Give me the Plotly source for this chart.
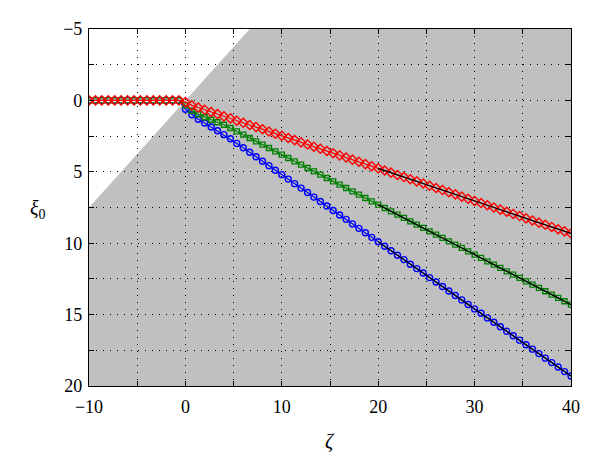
import plotly.graph_objects as go

# sampling grid of zeta (step 2/3)
zeta = [-10.0, -9.33, -8.67, -8.0, -7.33, -6.67, -6.0, -5.33, -4.67, -4.0,
        -3.33, -2.67, -2.0, -1.33, -0.67,
        0.0, 0.67, 1.33, 2.0, 2.67, 3.33, 4.0, 4.67, 5.33, 6.0,
        6.67, 7.33, 8.0, 8.67, 9.33, 10.0, 10.67, 11.33, 12.0, 12.67,
        13.33, 14.0, 14.67, 15.33, 16.0, 16.67, 17.33, 18.0, 18.67, 19.33,
        20.0, 20.67, 21.33, 22.0, 22.67, 23.33, 24.0, 24.67, 25.33, 26.0,
        26.67, 27.33, 28.0, 28.67, 29.33, 30.0, 30.67, 31.33, 32.0, 32.67,
        33.33, 34.0, 34.67, 35.33, 36.0, 36.67, 37.33, 38.0, 38.67, 39.33, 40.0]

flat = [0.0] * 15

xi_red = flat + [0.12, 0.35, 0.50, 0.66, 0.81, 0.96, 1.12, 1.26, 1.42, 1.57,
                 1.72, 1.87, 2.02, 2.18, 2.33, 2.48, 2.63, 2.78, 2.94, 3.09,
                 3.24, 3.39, 3.54, 3.70, 3.85, 4.00, 4.15, 4.30, 4.46, 4.61,
                 4.76, 4.91, 5.06, 5.22, 5.37, 5.52, 5.67, 5.82, 5.98, 6.13,
                 6.28, 6.43, 6.58, 6.74, 6.89, 7.04, 7.19, 7.34, 7.50, 7.65,
                 7.80, 7.95, 8.10, 8.26, 8.41, 8.56, 8.71, 8.86, 9.02, 9.17, 9.32]

xi_green = flat + [0.35, 0.72, 0.98, 1.18, 1.36, 1.53, 1.70, 1.93, 2.17, 2.40,
                   2.63, 2.87, 3.10, 3.33, 3.57, 3.80, 4.03, 4.27, 4.50, 4.73,
                   4.97, 5.20, 5.43, 5.67, 5.90, 6.13, 6.37, 6.60, 6.83, 7.07,
                   7.30, 7.53, 7.77, 8.00, 8.23, 8.47, 8.70, 8.93, 9.17, 9.40,
                   9.63, 9.87, 10.10, 10.33, 10.57, 10.80, 11.03, 11.27, 11.50, 11.73,
                   11.97, 12.20, 12.43, 12.67, 12.90, 13.13, 13.37, 13.60, 13.83, 14.07, 14.30]

xi_blue = flat + [0.62, 1.00, 1.32, 1.58, 1.86, 2.13, 2.40, 2.69, 3.01, 3.32,
                  3.63, 3.95, 4.26, 4.57, 4.89, 5.20, 5.51, 5.83, 6.14, 6.45,
                  6.77, 7.08, 7.39, 7.71, 8.02, 8.33, 8.65, 8.96, 9.27, 9.59,
                  9.90, 10.21, 10.53, 10.84, 11.15, 11.47, 11.78, 12.09, 12.41, 12.72,
                  13.03, 13.35, 13.66, 13.97, 14.29, 14.60, 14.91, 15.23, 15.54, 15.85,
                  16.17, 16.48, 16.79, 17.11, 17.42, 17.73, 18.05, 18.36, 18.67, 18.99, 19.30]

# asymptotic (black) segments start at zeta = 20
asym_start = 20.0

# boundary of shaded region: xi0 = -0.75 * zeta
bound_zeta = [-10.0, 6.67]
bound_xi = [7.5, -5.0]

x_range = [-10, 40]
y_range = [-5, 20]
x_ticks = [-10, -5, 0, 5, 10, 15, 20, 25, 30, 35, 40]
x_labels = ["\u221210", " ", "0", " ", "10", " ", "20", " ", "30", " ", "40"]
y_ticks = [-5, -2.5, 0, 2.5, 5, 7.5, 10, 12.5, 15, 17.5, 20]
y_labels = ["\u22125", " ", "0", " ", "5", " ", "10", " ", "15", " ", "20"]

fig = go.Figure()

series = [
    (xi_blue, "#0000ff", "circle-open", 6),
    (xi_green, "#008000", "square-open", 5),
    (xi_red, "#ff0000", "diamond-open", 7),
]
for ys, col, sym, sz in series:
    fig.add_trace(go.Scatter(x=zeta, y=ys, mode="lines+markers",
                             line=dict(color=col, width=1.2),
                             marker=dict(symbol=sym, size=sz, color=col,
                                         line=dict(color=col, width=1.4)),
                             showlegend=False, hoverinfo="skip"))

for ys, _, _, _ in series:
    xs = [z for z in zeta if z >= asym_start]
    yv = [y for z, y in zip(zeta, ys) if z >= asym_start]
    fig.add_trace(go.Scatter(x=xs, y=yv, mode="lines",
                             line=dict(color="black", width=1.2),
                             showlegend=False, hoverinfo="skip"))

path = (f"M {bound_zeta[0]},{bound_xi[0]} L {bound_zeta[1]},{bound_xi[1]} "
        f"L {x_range[1]},{y_range[0]} L {x_range[1]},{y_range[1]} "
        f"L {x_range[0]},{y_range[1]} Z")
fig.add_shape(type="path", path=path, xref="x", yref="y",
              fillcolor="#c0c0c0", line=dict(width=0), layer="below")

FAM = "Liberation Serif, serif"
font = dict(family=FAM, size=18, color="black")

axis_common = dict(showline=True, linecolor="black", linewidth=1.2, mirror="ticks",
                   ticks="inside", ticklen=5, tickcolor="black", tickwidth=1,
                   showgrid=True, gridcolor="black", gridwidth=1, griddash="1px,6px",
                   zeroline=False, tickfont=font, fixedrange=True)

fig.update_xaxes(range=x_range, tickvals=x_ticks, ticktext=x_labels,
                 ticklabelstandoff=4, **axis_common)
fig.update_yaxes(range=[y_range[1], y_range[0]], tickvals=y_ticks, ticktext=y_labels,
                 ticklabelstandoff=2, **axis_common)

fig.add_annotation(text="<i>ζ</i>", xref="paper", yref="paper", x=0.5, y=-0.155,
                   showarrow=False, font=dict(family=FAM, size=20, color="black"),
                   xanchor="center", yanchor="middle")
fig.add_annotation(text="<i>ξ</i><sub>0</sub>", xref="paper", yref="paper", x=-0.085, y=0.495,
                   showarrow=False, font=dict(family=FAM, size=20, color="black"),
                   xanchor="right", yanchor="middle")

# page body adds an 8px offset; margins compensate so the plot box lands
# at x 89..571, y 29..387 in the window
fig.update_layout(width=600, height=470,
                  margin=dict(l=81, r=37, t=21, b=92),
                  plot_bgcolor="white", paper_bgcolor="white",
                  font=font)

fig.write_html("out.html")
